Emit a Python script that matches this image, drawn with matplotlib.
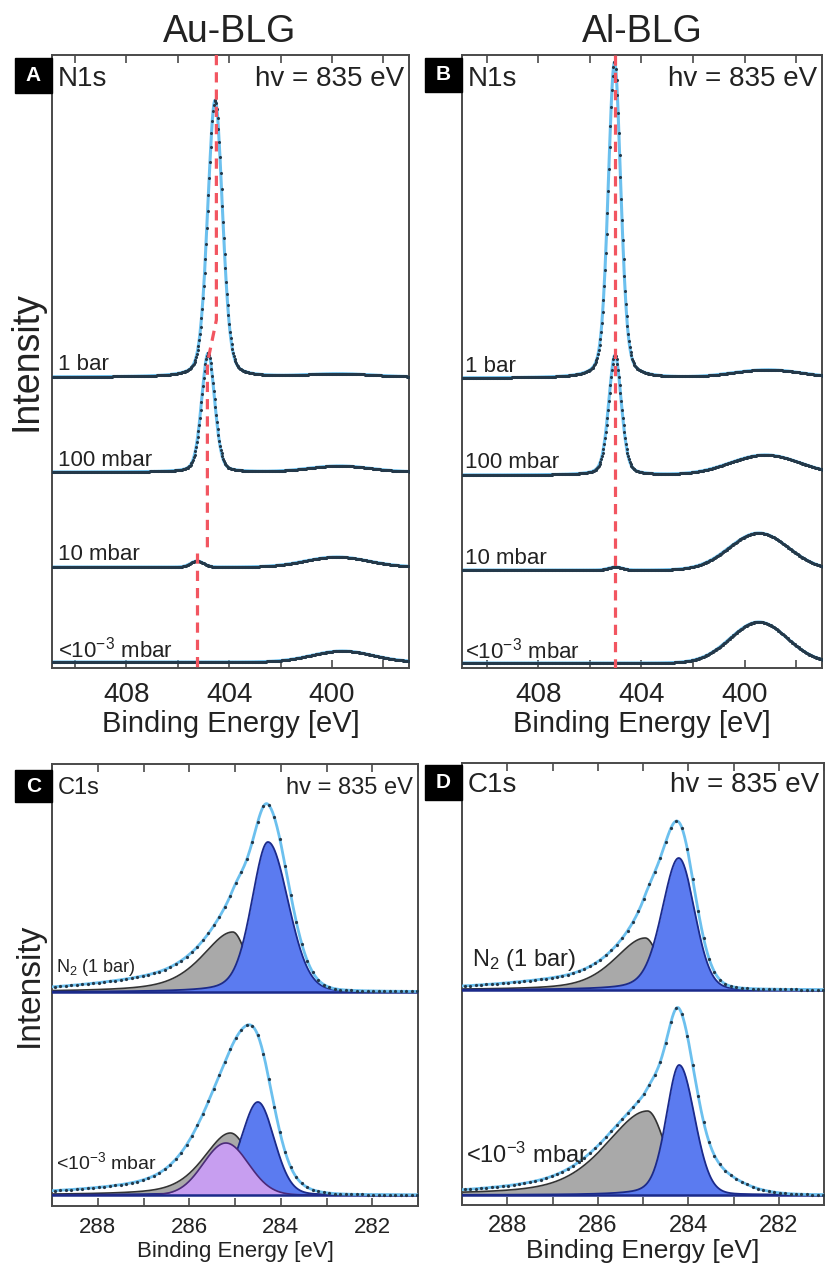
"""N1s / C1s XPS panels for Au-BLG and Al-BLG."""

import numpy as np
import matplotlib
matplotlib.use("Agg")
import matplotlib.pyplot as plt
from matplotlib.patches import Rectangle

plt.rcParams["font.family"] = ["Liberation Sans", "DejaVu Sans"]
plt.rcParams["mathtext.fontset"] = "custom"
plt.rcParams["mathtext.rm"] = "Liberation Sans"
plt.rcParams["mathtext.it"] = "Liberation Sans:italic"

W, H = 826, 1266

# ---- data (peak = centre eV, height, hwhm high-BE side, hwhm low-BE side, lorentz frac hi, lo)
N1S_LABELS = ["1 bar", "100 mbar", "10 mbar", r"<10$^{\mathrm{-3}}$ mbar"]
AU_N1S_OFFSET = [291, 196, 101, 6]
AU_N1S_PEAKS = [
    [(404.55, 277, 0.34, 0.34, 0.25, 0.25), (399.7, 3, 1.5, 1.5, 0, 0)],
    [(404.82, 119, 0.30, 0.30, 0.25, 0.25), (399.7, 6, 1.4, 1.4, 0, 0)],
    [(405.25, 6, 0.30, 0.30, 0.0, 0.0), (399.8, 10, 1.45, 1.45, 0, 0)],
    [(399.6, 11, 1.4, 1.4, 0, 0)],
]
AU_N1S_GUIDE = [[(404.5, 613), (404.5, 348), (404.85, 305), (404.85, 118)],
                [(405.25, 115), (405.25, 0)]]

AL_N1S_OFFSET = [290, 193, 98, 5]
AL_N1S_PEAKS = [
    [(405.04, 316, 0.29, 0.29, 0.3, 0.3), (399.1, 8, 1.6, 1.6, 0, 0)],
    [(405.02, 120, 0.29, 0.29, 0.3, 0.3), (399.2, 20, 1.6, 1.6, 0, 0)],
    [(405.0, 3, 0.3, 0.3, 0, 0), (399.45, 37, 1.35, 1.35, 0, 0)],
    [(399.45, 41, 1.3, 1.3, 0, 0)],
]
AL_N1S_GUIDE = [[(405.04, 613), (405.04, 0)]]

C1S_LABELS = [r"N$_2$ (1 bar)", r"<10$^{\mathrm{-3}}$ mbar"]
AU_C1S_OFFSET = [214, 11]
AU_C1S_BLUE = [(284.28, 150, 0.42, 0.52, 0.3, 0.1), (284.5, 93, 0.44, 0.42, 0.3, 0.1)]
AU_C1S_GRAY = [(285.05, 60, 0.8, 0.35, 0.6, 0.1), (285.1, 62, 0.7, 0.5, 0.5, 0.1)]
AU_C1S_PURPLE = [None, (285.2, 52, 0.58, 0.58, 0.0, 0.0)]
AU_C1S_EXTRA = [[(284.45, 36, 0.6, 0.65, 0.3, 0.1), (286.3, 10, 2.0, 1.0, 0.5, 0.0)],
                [(285.0, 55, 0.95, 0.85, 0.3, 0.0), (286.5, 6, 2.0, 1.0, 0.5, 0.0)]]

AL_C1S_OFFSET = [215, 10]
AL_C1S_BLUE = [(284.21, 132, 0.44, 0.41, 0.3, 0.1), (284.2, 130, 0.34, 0.4, 0.3, 0.1)]
AL_C1S_GRAY = [(284.95, 52, 0.8, 0.35, 0.5, 0.1), (284.9, 84, 1.1, 0.45, 0.5, 0.1)]
AL_C1S_PURPLE = [None, None]
AL_C1S_EXTRA = [[(284.4, 35, 0.55, 0.6, 0.3, 0.1), (286.3, 8, 2.0, 1.0, 0.5, 0.0)],
                [(284.15, 40, 0.5, 1.0, 0.3, 0.0), (286.5, 6, 2.0, 1.0, 0.5, 0.0)]]

FIT = "#6cc0ee"
DOTS = "#24394a"
RED = "#f25560"
SPINE = "#4a4a4a"


def pv(e, c, h, w_hi, w_lo, eta_hi, eta_lo):
    hi = e >= c
    u = (e - c) / np.where(hi, w_hi, w_lo)
    eta = np.where(hi, eta_hi, eta_lo)
    return h * ((1 - eta) * np.exp(-np.log(2) * u ** 2) + eta / (1 + u ** 2))


def total(e, peaks):
    return sum(pv(e, *p) for p in peaks)


def px_axes(fig, left, top, right, bottom):
    return fig.add_axes([left / W, 1 - bottom / H, (right - left) / W, (bottom - top) / H])


def style(ax, xlim, ylim, major, minor, fs, pad):
    ax.set_xlim(*xlim)
    ax.set_ylim(*ylim)
    ax.set_xticks(major)
    ax.set_xticks(minor, minor=True)
    ax.set_yticks([])
    ax.tick_params(axis="x", which="both", direction="in", top=True, length=6,
                   width=1.2, color=SPINE, labelsize=fs, pad=pad, labelcolor="#222")
    for s in ax.spines.values():
        s.set_color(SPINE)
        s.set_linewidth(1.4)


def letter(fig, x0, y0, x1, y1, txt):
    fig.patches.append(Rectangle((x0 / W, 1 - y1 / H), (x1 - x0) / W, (y1 - y0) / H,
                                 transform=fig.transFigure, color="black"))
    fig.text((x0 + x1) / 2 / W, 1 - (y0 + y1) / 2 / H, txt, color="white",
             fontsize=15, fontweight="bold", ha="center", va="center")


def n1s_panel(ax, offsets, peaks, guides, label_x):
    e = np.arange(396.8, 411.1, 0.03)
    for off, pk, lab in zip(offsets, peaks, N1S_LABELS):
        y = off + total(e, pk)
        ax.plot(e, y, color=FIT, lw=2.2, zorder=2)
        ax.plot(e, y, ls="none", marker="o", ms=1.2, color=DOTS, zorder=3)
        ax.text(label_x, off + 12, lab, fontsize=16, ha="left", va="center",
                color="#222", zorder=5)
    for g in guides:
        gx, gy = zip(*g)
        ax.plot(gx, gy, color=RED, lw=2.3, ls=(0, (3.2, 2.2)), zorder=4)


def c1s_panel(ax, offsets, blue, gray, purple, extra):
    e = np.arange(280.9, 289.2, 0.01)
    for i, off in enumerate(offsets):
        b = pv(e, *blue[i])
        g = pv(e, *gray[i])
        ax.fill_between(e, off, off + g, color="#a9a9a9", lw=0, zorder=2)
        ax.plot(e, off + g, color="#333333", lw=1.2, zorder=2)
        ax.fill_between(e, off, off + b, color="#5b7bf0", lw=0, zorder=3)
        ax.plot(e, off + b, color="#1b2a8a", lw=1.3, zorder=3)
        if purple[i] is not None:
            p = pv(e, *purple[i])
            ax.fill_between(e, off, off + p, color="#c79ef0", lw=0, zorder=4)
            ax.plot(e, off + p, color="#4b2a7a", lw=1.2, zorder=4)
        ax.plot(e, np.full_like(e, off), color="#1b2a8a", lw=1.8, zorder=4)
        env = off + b + g + total(e, extra[i])
        ax.plot(e, env, color=FIT, lw=2.0, zorder=5)
        ax.plot(e[::12], env[::12], ls="none", marker="o", ms=1.3, color=DOTS, zorder=6)


fig = plt.figure(figsize=(W / 100, H / 100), dpi=100)

# panel A
axA = px_axes(fig, 52, 55, 409, 668)
style(axA, (410.9, 397.0), (0, 613), [408, 404, 400], [410, 406, 402, 398], 20, 10)
n1s_panel(axA, AU_N1S_OFFSET, AU_N1S_PEAKS, AU_N1S_GUIDE, 410.65)
axA.set_xlabel("Binding Energy [eV]", fontsize=21, color="#222")
axA.xaxis.set_label_coords(0.5, -0.068)
axA.set_ylabel("Intensity", fontsize=27, color="#222")
axA.yaxis.set_label_coords(-0.02, 0.5)

# panel B
axB = px_axes(fig, 462, 55, 822, 668)
style(axB, (410.95, 397.0), (0, 613), [408, 404, 400], [410, 406, 402, 398], 20, 10)
n1s_panel(axB, AL_N1S_OFFSET, AL_N1S_PEAKS, AL_N1S_GUIDE, 410.85)
axB.set_xlabel("Binding Energy [eV]", fontsize=21, color="#222")
axB.xaxis.set_label_coords(0.5, -0.068)

# panel C
axC = px_axes(fig, 52, 764, 418, 1206)
style(axC, (289.0, 281.0), (0, 442), [288, 286, 284, 282], np.arange(281, 290), 16, 8)
c1s_panel(axC, AU_C1S_OFFSET, AU_C1S_BLUE, AU_C1S_GRAY, AU_C1S_PURPLE, AU_C1S_EXTRA)
axC.set_xlabel("Binding Energy [eV]", fontsize=16, color="#222")
axC.xaxis.set_label_coords(0.5, -0.079)
axC.set_ylabel("Intensity", fontsize=24, color="#222")
axC.yaxis.set_label_coords(-0.02, 0.5)
axC.text(288.92, 239, C1S_LABELS[0], fontsize=13, ha="left", va="center", color="#222", zorder=7)
axC.text(288.92, 44, C1S_LABELS[1], fontsize=14, ha="left", va="center", color="#222", zorder=7)

# panel D
axD = px_axes(fig, 462, 763, 824, 1205)
style(axD, (289.0, 281.0), (0, 442), [288, 286, 284, 282], np.arange(281, 290), 17, 7)
c1s_panel(axD, AL_C1S_OFFSET, AL_C1S_BLUE, AL_C1S_GRAY, AL_C1S_PURPLE, AL_C1S_EXTRA)
axD.set_xlabel("Binding Energy [eV]", fontsize=19, color="#222")
axD.xaxis.set_label_coords(0.5, -0.077)
axD.text(288.78, 245, C1S_LABELS[0], fontsize=17, ha="left", va="center", color="#222", zorder=7)
axD.text(288.92, 50, C1S_LABELS[1], fontsize=17, ha="left", va="center", color="#222", zorder=7)

# titles and in-panel headers
fig.text(230 / W, 1 - 32 / H, "Au-BLG", fontsize=27, ha="center", va="center", color="#222")
fig.text(642 / W, 1 - 32 / H, "Al-BLG", fontsize=27, ha="center", va="center", color="#222")
for x0, x1, yc, left, right, fs in [(52, 409, 79, "N1s", "hv = 835 eV", 20),
                                    (462, 822, 79, "N1s", "hv = 835 eV", 20),
                                    (52, 418, 788, "C1s", "hv = 835 eV", 17),
                                    (462, 824, 785, "C1s", "hv = 835 eV", 20)]:
    fig.text((x0 + 6) / W, 1 - yc / H, left, fontsize=fs, ha="left", va="center", color="#222")
    fig.text((x1 - 5) / W, 1 - yc / H, right, fontsize=fs, ha="right", va="center", color="#222")

letter(fig, 15, 58, 52, 93, "A")
letter(fig, 425, 58, 462, 92, "B")
letter(fig, 15, 770, 52, 802, "C")
letter(fig, 425, 765, 462, 800, "D")

fig.savefig("out.png", dpi=100, facecolor="white")
